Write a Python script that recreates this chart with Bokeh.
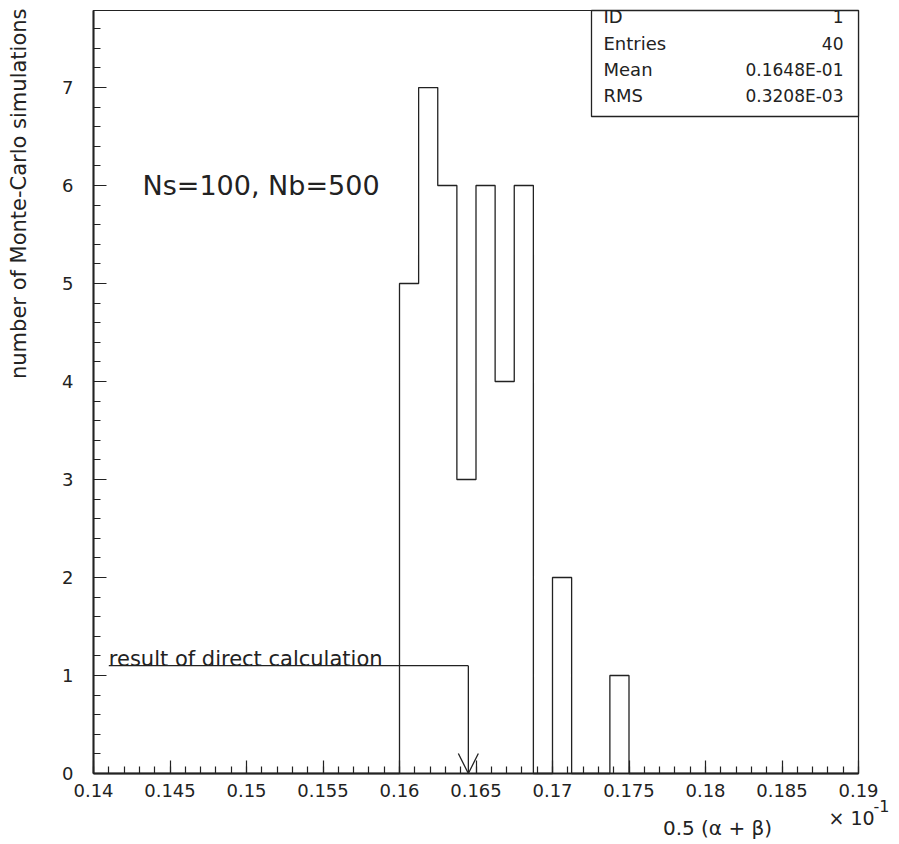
import numpy as np
from bokeh.plotting import figure
from bokeh.models import (Range1d, FixedTicker, CustomJSTickFormatter, Label,
                          BoxAnnotation, Arrow, OpenHead, LinearAxis)
from bokeh.embed import file_html
from bokeh.resources import INLINE

# ---------------- data ----------------
hist_low = 0.14
hist_high = 0.19
n_bins = 40
counts = [0] * 16 + [5, 7, 6, 3, 6, 4, 6, 0, 2, 0, 0, 1] + [0] * 12

x_ticks = [0.14, 0.145, 0.15, 0.155, 0.16, 0.165, 0.17, 0.175, 0.18, 0.185, 0.19]
y_ticks = [0, 1, 2, 3, 4, 5, 6, 7]
y_top = 7.786

stat_names = ["ID", "Entries", "Mean", "RMS"]
stat_values = ["1", "40", "0.1648E-01", "0.3208E-03"]

direct_result = 0.1645
direct_label = "result of direct calculation"
sample_label = "Ns=100, Nb=500"
x_title = "0.5 (\u03b1 + \u03b2)"
y_title = "number of Monte-Carlo simulations"

# ---------------- layout / style ----------------
FONT = "DejaVu Sans"
INK = "#222222"
W, H = 896, 842
# pixel placement of the plotting box inside the canvas
PX_LEFT, PX_RIGHT, PX_TOP, PX_BOTTOM = 93, 858, 10, 773
sx = (PX_RIGHT - PX_LEFT) / (hist_high - hist_low)
sy = (PX_BOTTOM - PX_TOP) / y_top
x0 = hist_low - PX_LEFT / sx
x1 = x0 + W / sx
y1 = PX_BOTTOM / sy
y0 = -(H - PX_BOTTOM) / sy


def dx(px):
    return x0 + px / sx


def dy(py):
    return (PX_BOTTOM - py) / sy


edges = np.linspace(hist_low, hist_high, n_bins + 1)
xs = np.concatenate([[edges[0]], np.repeat(edges, 2)[1:-1], [edges[-1]]])
ys = np.concatenate([[0], np.repeat(counts, 2), [0]])

p = figure(width=W, height=H,
           x_range=Range1d(x0, x1), y_range=Range1d(y0, y1),
           x_axis_location=None, y_axis_location=None,
           output_backend="svg", toolbar_location=None,
           min_border=0, min_border_left=0, min_border_right=0,
           min_border_top=0, min_border_bottom=0)
p.grid.visible = False
p.outline_line_color = None
p.background_fill_color = "white"
p.border_fill_color = "white"

x_minor = list(np.round(np.arange(0.14, 0.19001, 0.001), 4))
y_minor = list(np.round(np.arange(0, 7.8, 0.2), 1))

xaxis = LinearAxis(fixed_location=0, bounds=(hist_low, hist_high),
                   ticker=FixedTicker(ticks=x_ticks, minor_ticks=x_minor),
                   formatter=CustomJSTickFormatter(code="return String(Number(tick.toFixed(4)));"))
yaxis = LinearAxis(fixed_location=hist_low, bounds=(0, y_top),
                   ticker=FixedTicker(ticks=y_ticks, minor_ticks=y_minor))
for ax in (xaxis, yaxis):
    ax.axis_line_width = 2
    ax.axis_line_color = INK
    ax.major_tick_line_color = INK
    ax.major_tick_line_width = 1.2
    ax.minor_tick_line_color = INK
    ax.minor_tick_line_width = 1.2
    ax.major_tick_in = 13
    ax.major_tick_out = 0
    ax.minor_tick_in = 7
    ax.minor_tick_out = 0
    ax.major_label_text_font = FONT
    ax.major_label_text_font_size = "18px"
    ax.major_label_text_color = INK
xaxis.major_label_standoff = 10
yaxis.major_label_standoff = 20
p.add_layout(xaxis, "below")
p.add_layout(yaxis, "left")

# histogram outline
p.line(xs, ys, line_color=INK, line_width=1.3)

# plot box (top / right borders)
p.add_layout(BoxAnnotation(left=hist_low, right=hist_high, bottom=0, top=y_top,
                           fill_alpha=0, line_color=INK, line_alpha=1.0, line_width=1.2))

# direct calculation marker
p.line([0.141, direct_result], [1.1, 1.1], line_color=INK, line_width=1.3)
p.add_layout(Arrow(end=OpenHead(size=20, line_color=INK, line_width=1.3),
                   x_start=direct_result, y_start=1.1, x_end=direct_result, y_end=0,
                   line_color=INK, line_width=1.3))
p.add_layout(Label(x=0.141, y=dy(658), text=direct_label, text_font=FONT,
                   text_font_size="21px", text_color=INK, text_baseline="alphabetic"))

p.add_layout(Label(x=dx(142), y=dy(185), text=sample_label, text_font=FONT,
                   text_font_size="27px", text_color=INK, text_baseline="alphabetic"))

# statistics box
p.add_layout(BoxAnnotation(left=dx(591), right=hist_high, bottom=dy(116), top=y_top,
                           fill_color="white", fill_alpha=1.0,
                           line_color=INK, line_alpha=1.0, line_width=1.3))
row_px = [16, 42.5, 69, 95]
for nm, vl, rp in zip(stat_names, stat_values, row_px):
    p.add_layout(Label(x=dx(603), y=dy(rp), text=nm, text_font=FONT, text_font_size="18px",
                       text_color=INK, text_baseline="middle", text_align="left"))
    p.add_layout(Label(x=dx(843), y=dy(rp), text=vl, text_font=FONT, text_font_size="17px",
                       text_color=INK, text_baseline="middle", text_align="right"))

# axis titles
p.add_layout(Label(x=dx(717), y=dy(827), text=x_title, text_font=FONT, text_font_size="20px",
                   text_color=INK, text_align="center", text_baseline="middle"))
p.add_layout(Label(x=dx(851), y=dy(817), text="\u00d7 10", text_font=FONT, text_font_size="19px",
                   text_color=INK, text_align="center", text_baseline="middle"))
p.add_layout(Label(x=dx(873), y=dy(805), text="-1", text_font=FONT, text_font_size="16px",
                   text_color=INK, text_align="left", text_baseline="middle"))
p.add_layout(Label(x=dx(18), y=dy(8), text=y_title, angle=np.pi / 2, text_font=FONT,
                   text_font_size="21px", text_color=INK, text_align="right",
                   text_baseline="middle"))

open("out.html", "w").write(file_html(p, INLINE))
